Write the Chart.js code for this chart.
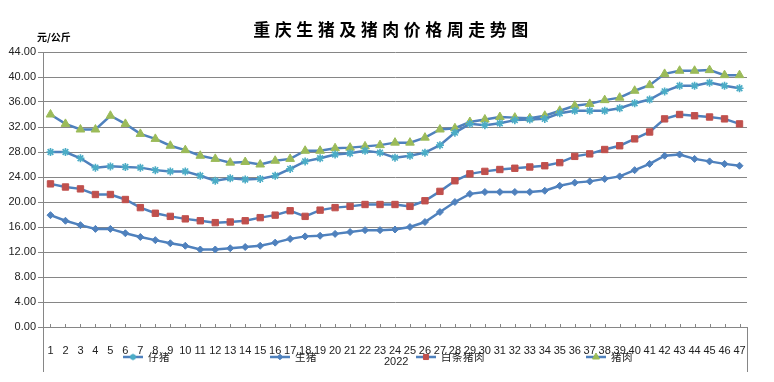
<!DOCTYPE html>
<html lang="zh">
<head>
    <meta charset="UTF-8">
    <title>重庆生猪及猪肉价格周走势图</title>
    <style>
        body {
            margin: 0;
            background: #ffffff;
        }
        #wrap {
            width: 774px;
            height: 382px;
        }
    </style>
    <script src="https://cdn.jsdelivr.net/npm/chart.js"></script>
</head>
<body>
    <div id="wrap">
        <canvas id="priceChart" width="774" height="382"></canvas>
    </div>

    <script>
        // 周次 1..47 (2022)
        const weeks = ['1','2','3','4','5','6','7','8','9','10','11','12','13','14','15','16','17','18','19','20',
            '21','22','23','24','25','26','27','28','29','30','31','32','33','34','35','36','37','38','39','40',
            '41','42','43','44','45','46','47'];
        const yearLabel = '2022';

        // 价格 元/公斤
        const piglet = [28.0, 28.0, 27.0, 25.5, 25.7, 25.6, 25.5, 25.1, 24.9, 24.9,
            24.2, 23.4, 23.8, 23.6, 23.7, 24.2, 25.3, 26.5, 27.0, 27.6,
            27.8, 28.2, 27.9, 27.1, 27.4, 27.9, 29.1, 31.1, 32.5, 32.3,
            32.6, 33.1, 33.2, 33.3, 34.2, 34.6, 34.6, 34.6, 35.0, 35.8,
            36.4, 37.7, 38.6, 38.6, 39.1, 38.6, 38.2];
        const liveHog = [17.9, 17.0, 16.3, 15.7, 15.7, 15.0, 14.4, 13.9, 13.4, 13.0,
            12.4, 12.4, 12.6, 12.8, 13.0, 13.5, 14.1, 14.5, 14.6, 14.9,
            15.2, 15.5, 15.5, 15.6, 16.0, 16.8, 18.4, 20.0, 21.3, 21.6,
            21.6, 21.6, 21.6, 21.8, 22.6, 23.1, 23.3, 23.7, 24.1, 25.1,
            26.1, 27.4, 27.6, 26.9, 26.5, 26.1, 25.8];
        const carcass = [22.9, 22.4, 22.1, 21.2, 21.2, 20.4, 19.1, 18.2, 17.7, 17.3,
            17.0, 16.7, 16.8, 17.0, 17.5, 17.9, 18.6, 17.7, 18.7, 19.1,
            19.3, 19.6, 19.6, 19.6, 19.3, 20.2, 21.7, 23.4, 24.5, 24.9,
            25.2, 25.4, 25.6, 25.8, 26.3, 27.3, 27.7, 28.4, 29.0, 30.1,
            31.2, 33.3, 34.0, 33.8, 33.6, 33.3, 32.5];
        const pork = [34.0, 32.5, 31.6, 31.6, 33.8, 32.5, 30.9, 30.1, 29.0, 28.3,
            27.4, 26.9, 26.3, 26.4, 26.0, 26.6, 26.9, 28.2, 28.2, 28.6,
            28.7, 28.9, 29.1, 29.5, 29.5, 30.3, 31.6, 31.8, 32.8, 33.2,
            33.6, 33.5, 33.4, 33.8, 34.6, 35.4, 35.7, 36.3, 36.7, 37.8,
            38.7, 40.5, 41.0, 41.0, 41.1, 40.3, 40.3];

        const lineBlue = '#4F81BD';
        const gridGray = '#868686';
        const tickFont = '"Liberation Sans", Arial, sans-serif';
        const cjkFont = '"Noto Sans CJK SC", sans-serif';

        const makeSet = (label, data, style, color, radius) => ({
            label: label,
            data: data,
            borderColor: lineBlue,
            borderWidth: 2.5,
            pointStyle: style,
            pointRadius: radius,
            pointBackgroundColor: color,
            pointBorderColor: color,
            pointBorderWidth: style === 'star' ? 1.6 : 1,
            tension: 0,
            fill: false,
        });

        const datasets = [
            makeSet('仔猪', piglet, 'star', '#4BACC6', 4),
            makeSet('生猪', liveHog, 'rectRot', '#4F81BD', 3.5),
            makeSet('白条猪肉', carcass, 'rect', '#C0504D', 4.5),
            makeSet('猪肉', pork, 'triangle', '#9BBB59', 5),
        ];

        // 标题、单位、图例、年份标签
        const legendX = [123, 270, 416, 586];
        const extras = {
            id: 'extras',
            afterDraw(chart) {
                const { ctx, chartArea: a, scales: { x } } = chart;
                ctx.save();

                ctx.fillStyle = '#000';
                ctx.textBaseline = 'middle';
                ctx.textAlign = 'center';
                ctx.font = 'bold 17px ' + cjkFont;
                ctx.letterSpacing = '4.5px';
                ctx.fillText('重庆生猪及猪肉价格周走势图', 393, 30);
                ctx.letterSpacing = '0px';

                ctx.textAlign = 'left';
                ctx.font = 'bold 10px ' + cjkFont;
                ctx.fillText('元/公斤', 37, 37);

                // x 轴内侧刻度
                ctx.strokeStyle = gridGray;
                ctx.lineWidth = 1;
                ctx.beginPath();
                weeks.forEach((w, i) => {
                    const px = Math.round(x.getPixelForValue(i)) + 0.5;
                    ctx.moveTo(px, a.bottom - 3);
                    ctx.lineTo(px, a.bottom);
                });
                ctx.moveTo(a.left + 0.5, a.bottom);
                ctx.lineTo(a.left + 0.5, 372);
                ctx.moveTo(a.right + 0.5, a.bottom);
                ctx.lineTo(a.right + 0.5, 372);
                ctx.stroke();

                ctx.fillStyle = '#222';
                ctx.font = '11px ' + tickFont;
                ctx.fillText(yearLabel, 384, 362);

                // 图例
                const ly = 357;
                chart.data.datasets.forEach((ds, i) => {
                    const lx = legendX[i];
                    ctx.strokeStyle = lineBlue;
                    ctx.lineWidth = 2.5;
                    ctx.beginPath();
                    ctx.moveTo(lx, ly);
                    ctx.lineTo(lx + 20, ly);
                    ctx.stroke();
                    ctx.fillStyle = ds.pointBackgroundColor;
                    ctx.strokeStyle = ds.pointBorderColor;
                    ctx.lineWidth = ds.pointBorderWidth;
                    Chart.helpers.drawPoint(ctx, {
                        pointStyle: ds.pointStyle,
                        radius: ds.pointRadius * 0.8,
                        rotation: 0,
                        borderWidth: ds.pointBorderWidth,
                    }, lx + 10, ly);
                    ctx.fillStyle = '#222';
                    ctx.font = '10.5px ' + cjkFont;
                    ctx.letterSpacing = '0.5px';
                    ctx.fillText(ds.label, lx + 25, ly);
                    ctx.letterSpacing = '0px';
                });

                ctx.restore();
            }
        };

        const ctx = document.getElementById('priceChart').getContext('2d');
        new Chart(ctx, {
            type: 'line',
            data: {
                labels: weeks,
                datasets: datasets,
            },
            options: {
                responsive: false,
                animation: false,
                devicePixelRatio: 1,
                layout: {
                    padding: { top: 52, right: 27, left: 0, bottom: 0 },
                },
                plugins: {
                    legend: { display: false },
                    title: { display: false },
                    tooltip: { enabled: false },
                },
                scales: {
                    x: {
                        offset: true,
                        grid: { display: false },
                        border: { color: gridGray, width: 1 },
                        ticks: {
                            color: '#222',
                            font: { family: tickFont, size: 11 },
                            padding: 9,
                            maxRotation: 0,
                            autoSkip: false,
                        },
                        afterFit: (scale) => { scale.height = 55; },
                    },
                    y: {
                        min: 0,
                        max: 44,
                        grid: { color: gridGray, lineWidth: 1, tickLength: 5 },
                        border: { color: gridGray, width: 1 },
                        ticks: {
                            stepSize: 4,
                            color: '#222',
                            font: { family: tickFont, size: 11 },
                            padding: 2,
                            callback: (v) => v.toFixed(2),
                        },
                        afterFit: (scale) => { scale.width = 43; },
                    },
                },
            },
            plugins: [extras],
        });
    </script>
</body>
</html>
